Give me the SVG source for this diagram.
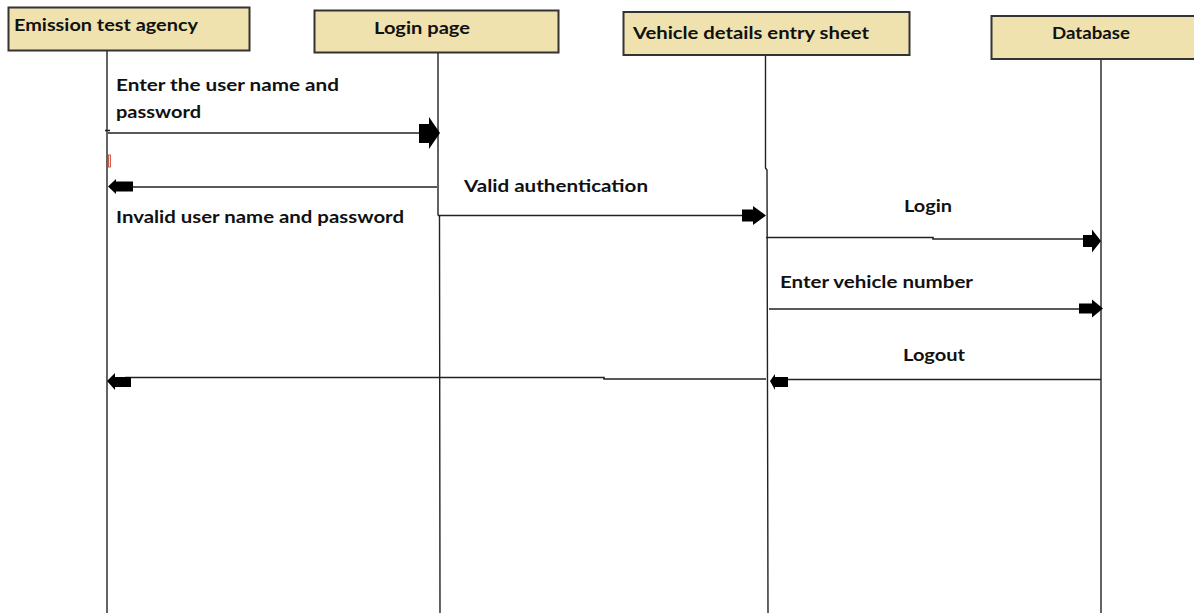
<svg xmlns="http://www.w3.org/2000/svg" width="1194" height="613" viewBox="0 0 1194 613">
<style>
.box{fill:#EFE2AE;stroke:#333;stroke-width:2}
.life{stroke:#222;stroke-width:1.4;fill:none}
.msg{stroke:#222;stroke-width:1.6;fill:none}
.head{fill:#000;stroke:none}
.t{font-family:Lato,"Liberation Sans",sans-serif;font-weight:700;font-size:17px;fill:#111}
</style>
<rect width="1194" height="613" fill="#fff"/>
<g id="emission-test-agency">
<rect class="box" x="8.5" y="7.5" width="241" height="43"/>
<text class="t" x="14" y="31" textLength="184" lengthAdjust="spacingAndGlyphs">Emission test agency</text>
<line class="life" x1="107" y1="51" x2="107" y2="613"/>
</g>
<g id="login-page">
<rect class="box" x="314.5" y="10.5" width="244" height="42"/>
<text class="t" x="374" y="34" textLength="96" lengthAdjust="spacingAndGlyphs">Login page</text>
<polyline class="life" points="438,53 438,215 439.5,216 440,613"/>
</g>
<g id="vehicle-details-entry-sheet">
<rect class="box" x="623.5" y="12" width="286" height="43"/>
<text class="t" x="633" y="39" textLength="236" lengthAdjust="spacingAndGlyphs">Vehicle details entry sheet</text>
<polyline class="life" points="765.5,56 765.5,168 767,170 768,613"/>
</g>
<g id="database">
<rect class="box" x="991.5" y="16" width="210" height="43"/>
<text class="t" x="1052" y="39" textLength="78" lengthAdjust="spacingAndGlyphs">Database</text>
<line class="life" x1="1101" y1="60" x2="1101" y2="613"/>
</g>
<g id="connectors">
<line class="msg" x1="108" y1="133" x2="421" y2="133"/>
<line class="msg" x1="105" y1="130.5" x2="110" y2="130.5" stroke-width="1"/>
<polygon class="head" points="419,124 429,124 429,117 440,133 429,149 429,143 419,143"/>
<text class="t" x="116" y="91" textLength="223" lengthAdjust="spacingAndGlyphs">Enter the user name and</text>
<text class="t" x="116" y="118" textLength="85" lengthAdjust="spacingAndGlyphs">password</text>
<rect x="108.5" y="155" width="2" height="12" fill="#f3e9a6" stroke="#c0392b" stroke-width="0.8"/>

<line class="msg" x1="437" y1="187" x2="125" y2="187"/>
<polygon class="head" points="108,186.5 116,179 116,181.5 133,181.5 133,191.5 116,191.5 116,194"/>
<text class="t" x="116" y="223" textLength="288" lengthAdjust="spacingAndGlyphs">Invalid user name and password</text>

<line class="msg" x1="438" y1="215.5" x2="745" y2="215.5"/>
<polygon class="head" points="742,209.5 753,209.5 753,206 766,215.5 753,225 753,221.5 742,221.5"/>
<text class="t" x="464" y="192" textLength="184" lengthAdjust="spacingAndGlyphs">Valid authentication</text>

<polyline class="msg" points="766,237.5 933,237.5 933,239 1086,239"/>
<polygon class="head" points="1083,235 1092,235 1092,229.5 1101,241 1092,252.5 1092,247 1083,247"/>
<text class="t" x="904" y="212" textLength="48" lengthAdjust="spacingAndGlyphs">Login</text>

<line class="msg" x1="769" y1="309" x2="1082" y2="309"/>
<polygon class="head" points="1079,303.5 1092,303.5 1092,299.5 1103,308.5 1092,317.5 1092,313.5 1079,313.5"/>
<text class="t" x="780" y="288" textLength="193" lengthAdjust="spacingAndGlyphs">Enter vehicle number</text>

<line class="msg" x1="1101" y1="379.5" x2="785" y2="379.5"/>
<polygon class="head" points="770,381 775,374 775,377 788,377 788,387 775,387 775,390"/>
<text class="t" x="903" y="361" textLength="62" lengthAdjust="spacingAndGlyphs">Logout</text>

<polyline class="msg" points="766,379 604,379 604,377.5 125,377.5"/>
<polygon class="head" points="107,381 115,373 115,377 131,377 131,387 115,387 115,390"/>
</g>
</svg>
